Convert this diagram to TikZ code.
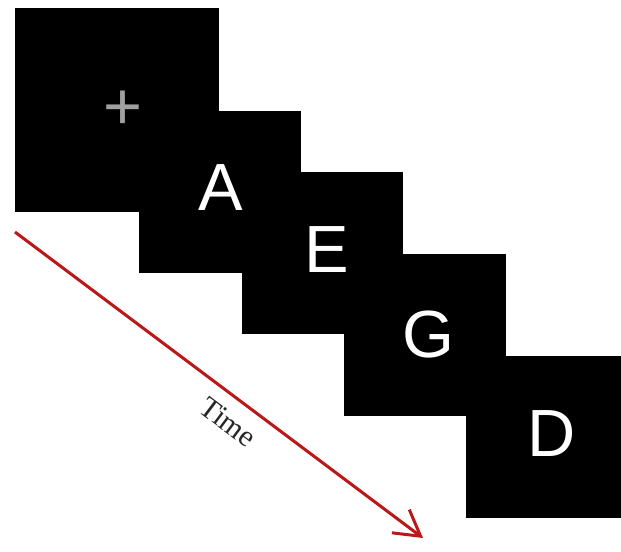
\documentclass[tikz,border=0pt]{standalone}
\usepackage{fontspec}
\setmainfont{Liberation Serif}
\newfontfamily\stimfont{Liberation Sans}
\usetikzlibrary{arrows.meta}
\definecolor{timered}{RGB}{185,25,25}
\definecolor{crossgray}{RGB}{160,160,160}

\begin{document}
\begin{tikzpicture}[
  x=0.02cm, y=-0.02cm,
  screen/.style={fill=black, inner sep=0pt, minimum size=3.24cm},
  stim/.style={text=white, inner sep=0pt, font=\stimfont\fontsize{38}{38}\selectfont},
  timeline/.style={timered, line width=0.06cm, -{Straight Barb[length=0.5cm, width=0.58cm]}}
]
  \clip (0,0) rectangle (621,551);
  \fill[white] (0,0) rectangle (621,551);

  % Stimulus screens
  \node[screen, minimum size=4.08cm] (s0) at (117,110) {};
  \node[screen] (s1) at (220,192) {};
  \node[screen] (s2) at (322.5,253) {};
  \node[screen] (s3) at (425,335) {};
  \node[screen] (s4) at (547,437) {};

  % Fixation and letters
  \node[stim, text=crossgray] (fix) at (123,110) {+};
  \node[stim] (la) at (221,188) {A};
  \node[stim] (le) at (327,250) {E};
  \node[stim] (lg) at (428,335) {G};
  \node[stim] (ld) at (552,434) {D};

  % Time arrow
  \coordinate (t0) at (15,232);
  \coordinate (t1) at (423,538);
  \draw[timeline] (t0) -- (t1);
  \node[rotate=-36.87, inner sep=0pt, text=black!85, font=\fontsize{17}{17}\selectfont] (time) at (228,422) {Time};

\end{tikzpicture}
\end{document}
